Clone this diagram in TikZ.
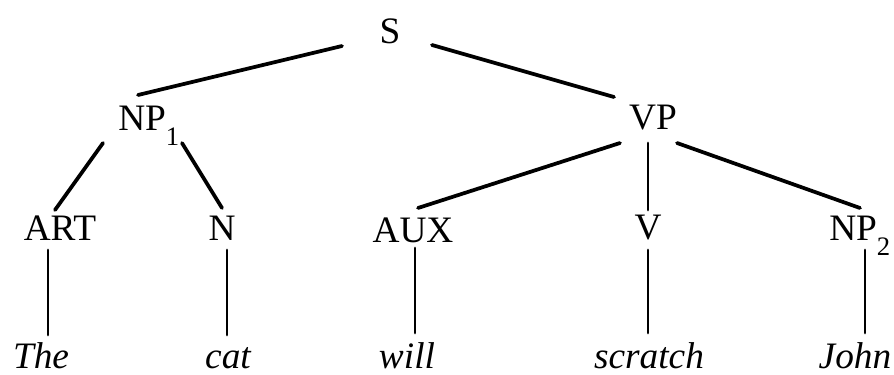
\documentclass[tikz,border=0pt]{standalone}
\usepackage{fontspec}
\setmainfont{Liberation Serif}
\usetikzlibrary{calc}
\tikzset{
  lbl/.style={inner sep=0pt, font=\fontsize{28}{30}\selectfont, anchor=base},
  lblw/.style={lbl, anchor=base west},
  word/.style={lbl, font=\fontsize{28}{30}\selectfont\itshape},
  br/.style={line width=2.8pt, line cap=round},
  vbr/.style={line width=2.1pt, line cap=round}
}
\newcommand{\subn}[1]{\raisebox{-0.42em}{\fontsize{20}{20}\selectfont #1}}
\begin{document}
\begin{tikzpicture}[x=0.75pt,y=-0.75pt]
\useasboundingbox (0,0) rectangle (894,375);
% nodes
\node[lbl]  (S)   at (390,43)  {S};
\node[lblw] (NP1) at (118,130) {NP\subn{1}};
\node[lbl]  (VP)  at (653,129) {VP};
\node[lbl]  (ART) at (60,240)  {ART};
\node[lbl]  (N)   at (222,240) {N};
\node[lbl]  (AUX) at (413,242) {AUX};
\node[lbl]  (V)   at (648,239) {V};
\node[lblw] (NP2) at (829,240) {NP\subn{2}};
\node[word] (The) at (41,368)  {The};
\node[word] (cat) at (228,368) {cat};
\node[word] (will) at (407,368) {will};
\node[word] (scratch) at (649,368) {scratch};
\node[word] (John) at (855,368) {John};
% branches
\draw[br] ($(S.base)+(-48,3)$) -- ($(NP1.base west)+(20,-35)$);
\draw[br] ($(S.base)+(42,2)$) -- ($(VP.base)+(-39,-32)$);
\draw[br] ($(NP1.base west)+(-15,13)$) -- ($(ART.base)+(-5,-30)$);
\draw[br] ($(NP1.base west)+(64,13)$) -- ($(N.base)+(0,-32)$);
\draw[br] ($(VP.base)+(-33,14)$) -- ($(AUX.base)+(5,-34)$);
\draw[vbr] ($(VP.base)+(-5,14)$) -- ($(V.base)+(0,-29)$);
\draw[br] ($(VP.base)+(24,14)$) -- ($(NP2.base west)+(31,-32)$);
\draw[vbr] ($(ART.base)+(-12,10)$) -- ($(The.base)+(7,-33)$);
\draw[vbr] ($(N.base)+(5,10)$) -- ($(cat.base)+(-1,-33)$);
\draw[vbr] ($(AUX.base)+(2,6)$) -- ($(will.base)+(8,-35)$);
\draw[vbr] ($(V.base)+(0,11)$) -- ($(scratch.base)+(-1,-35)$);
\draw[vbr] ($(NP2.base west)+(36,10)$) -- ($(John.base)+(10,-35)$);
\end{tikzpicture}
\end{document}
